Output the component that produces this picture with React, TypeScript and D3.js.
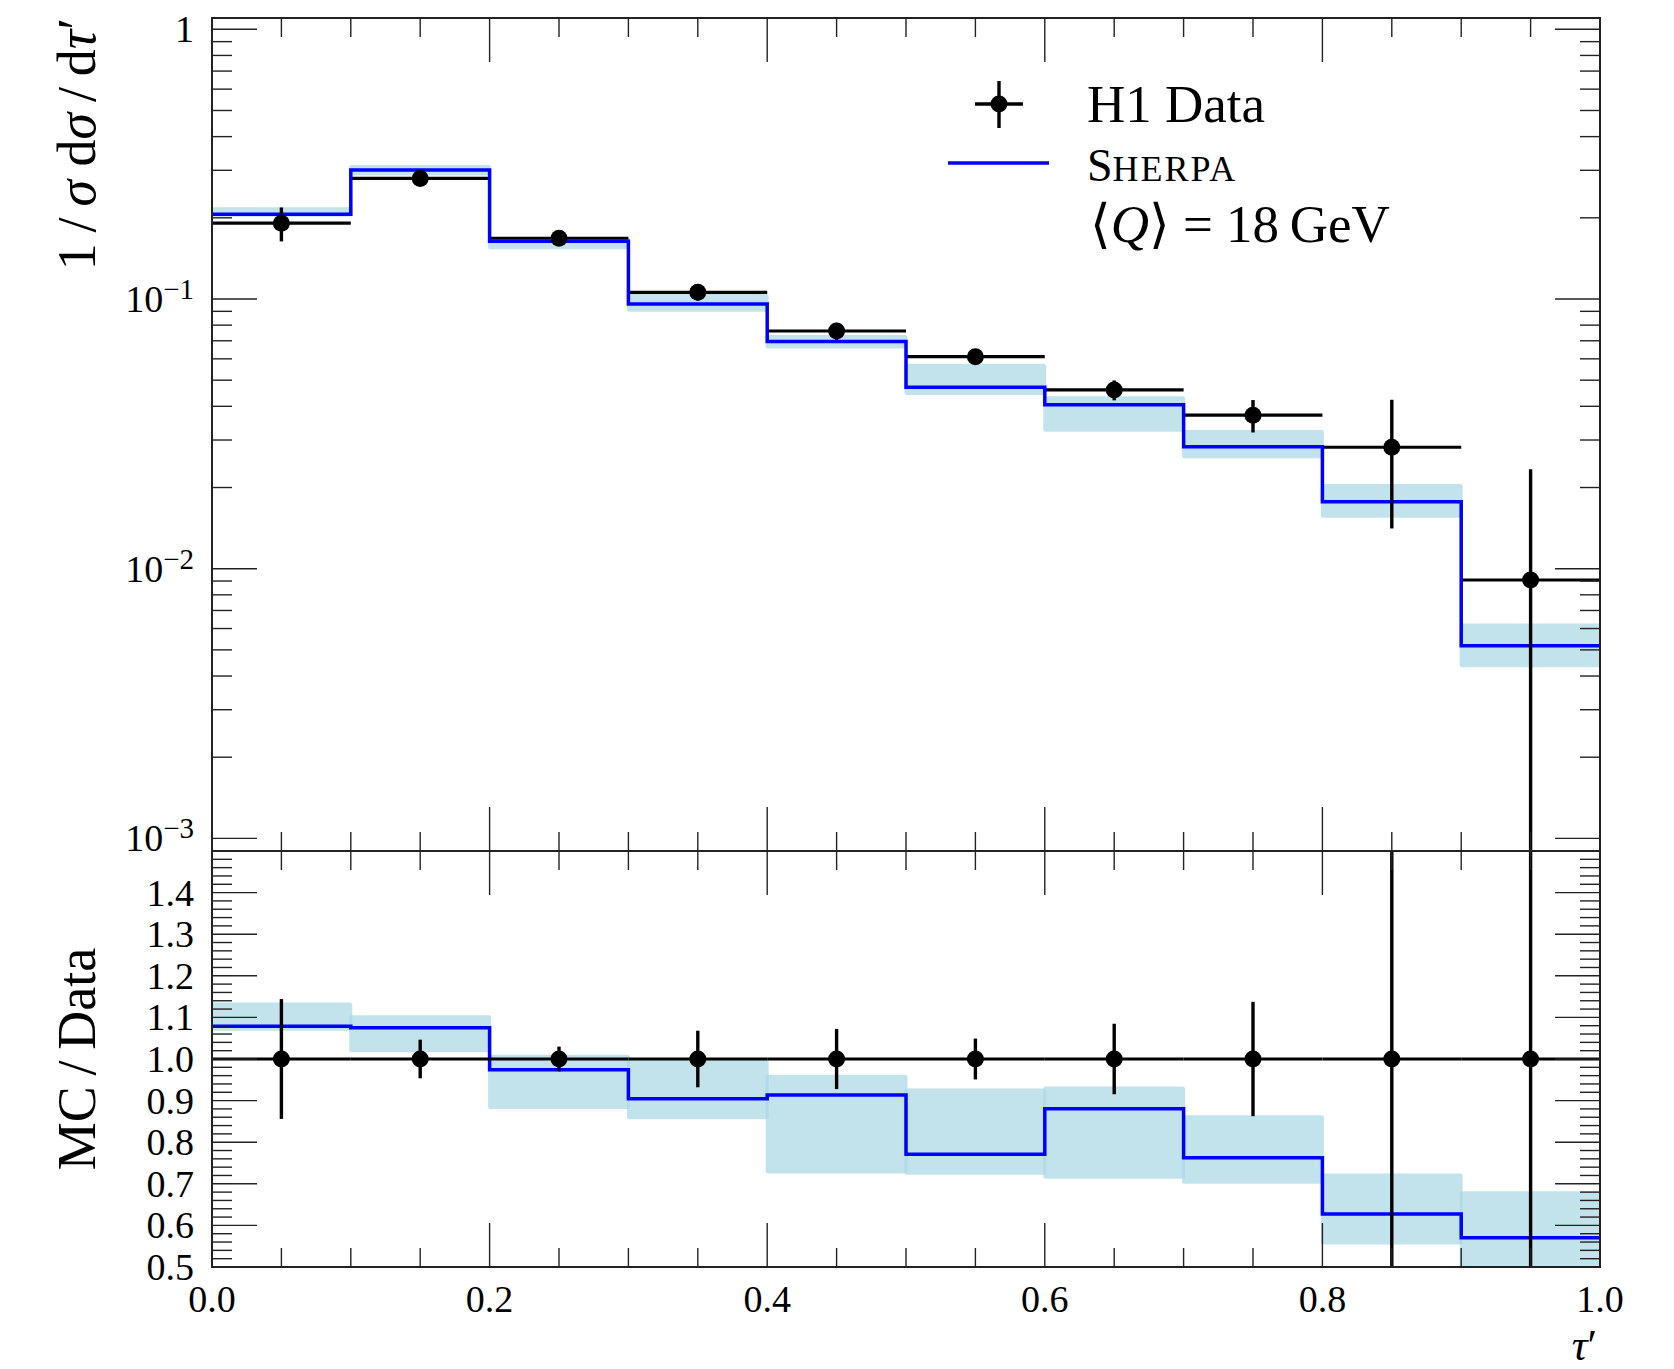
import React from "react";
import * as d3 from "d3";

// ---------- data ----------
const binEdges = [0, 0.1, 0.2, 0.3, 0.4, 0.5, 0.6, 0.7, 0.8, 0.9, 1.0];
const dataVal = [0.191, 0.280, 0.168, 0.1059, 0.0761, 0.0611, 0.0460, 0.0371, 0.0282, 0.00908];
const dataErr = [0.0275, 0.013, 0.005, 0.0072, 0.0055, 0.003, 0.0039, 0.0051, 0.0141, 0.0143];
const mcVal = [0.206, 0.301, 0.1637, 0.0958, 0.0695, 0.0471, 0.0405, 0.0283, 0.0177, 0.00518];
const mcLo = [0.202, 0.287, 0.153, 0.0896, 0.0656, 0.0441, 0.0322, 0.0257, 0.01546, 0.00431];
const mcHi = [0.219, 0.314, 0.169, 0.1045, 0.0735, 0.0575, 0.0436, 0.0327, 0.0206, 0.00626];
const ratioLo = [1.068, 1.016, 0.88, 0.855, 0.725, 0.722, 0.712, 0.70, 0.554, 0.47];
const ratioHi = [1.136, 1.105, 1.01, 0.998, 0.962, 0.929, 0.934, 0.865, 0.725, 0.682];

const xTickValues = [0, 0.2, 0.4, 0.6, 0.8, 1.0];
const xTickLabels = ["0.0", "0.2", "0.4", "0.6", "0.8", "1.0"];
const mainTickValues = [1, 0.1, 0.01, 0.001];
const mainTickExp = ["", "−1", "−2", "−3"];
const ratioTickValues = [0.5, 0.6, 0.7, 0.8, 0.9, 1.0, 1.1, 1.2, 1.3, 1.4];
const ratioTickLabels = ["0.5", "0.6", "0.7", "0.8", "0.9", "1.0", "1.1", "1.2", "1.3", "1.4"];

// ---------- layout ----------
const W = 1674, H = 1369;
const L = 212, R = 1600, T = 18, MID = 851, B = 1267;
const FONT = "'Liberation Serif', 'DejaVu Serif', serif";
const BAND = "#add8e6";
const TICK = "#222";

export default function App() {
  const x = d3.scaleLinear().domain([0, 1]).range([L, R]);
  const y = d3.scaleLog().domain([0.001, 1]).range([838.4, 29.3]);
  const yr = d3.scaleLinear().domain([0.5, 1.5]).range([B, MID]);

  const stepPts = (vals: number[]) =>
    binEdges.map((e, i) => [e, vals[Math.min(i, vals.length - 1)]] as [number, number]);

  const mainLine = d3.line<[number, number]>().x(d => x(d[0])).y(d => y(d[1])).curve(d3.curveStepAfter);
  const ratioLine = d3.line<[number, number]>().x(d => x(d[0])).y(d => yr(d[1])).curve(d3.curveStepAfter);
  const ratioMc = mcVal.map((v, i) => v / dataVal[i]);
  const ratioErr = dataErr.map((e, i) => e / dataVal[i]);

  // ticks
  const xMinor = d3.range(1, 20).map(i => ({ v: i * 0.05, major: i % 4 === 0 }));
  const mainMinor: number[] = [];
  [-3, -2, -1].forEach(d => d3.range(2, 10).forEach(k => mainMinor.push(k * Math.pow(10, d))));
  const ratioMinor = d3.range(26, 75).map(i => i * 0.02).filter(v => Math.abs(v * 10 - Math.round(v * 10)) > 1e-6);

  const mid = (i: number) => (binEdges[i] + binEdges[i + 1]) / 2;

  return (
    <svg width={W} height={H} style={{ position: "absolute", left: 0, top: 0, display: "block", background: "#fff" }} fontFamily={FONT}>
      <defs>
        <clipPath id="clipMain"><rect x={L} y={T} width={R - L} height={MID - T} /></clipPath>
        <clipPath id="clipRatio"><rect x={L} y={MID} width={R - L} height={B - MID} /></clipPath>
      </defs>

      {/* main panel */}
      <g clipPath="url(#clipMain)">
        {mcVal.map((_, i) => (
          <rect key={"mb" + i} x={x(binEdges[i]) - 1.5} width={x(binEdges[i + 1]) - x(binEdges[i]) + 3}
            y={y(mcHi[i])} height={y(mcLo[i]) - y(mcHi[i])} rx={2.5} fill={BAND} fillOpacity={0.75} />
        ))}
        {dataVal.map((v, i) => (
          <line key={"dh" + i} x1={x(binEdges[i])} x2={x(binEdges[i + 1])} y1={y(v)} y2={y(v)} stroke="#000" strokeWidth={3.2} />
        ))}
        <path d={mainLine(stepPts(mcVal)) || ""} fill="none" stroke="#0000ff" strokeWidth={3.5} />
        {dataVal.map((v, i) => (
          <g key={"dp" + i}>
            <line x1={x(mid(i))} x2={x(mid(i))} y1={y(v + dataErr[i])} y2={y(Math.max(v - dataErr[i], 1e-6))} stroke="#000" strokeWidth={3.4} />
            <circle cx={x(mid(i))} cy={y(v)} r={8.5} fill="#000" />
          </g>
        ))}
      </g>

      {/* ratio panel */}
      <g clipPath="url(#clipRatio)">
        {ratioLo.map((_, i) => (
          <rect key={"rb" + i} x={x(binEdges[i]) - 1.5} width={x(binEdges[i + 1]) - x(binEdges[i]) + 3}
            y={yr(ratioHi[i])} height={yr(ratioLo[i]) - yr(ratioHi[i])} rx={2.5} fill={BAND} fillOpacity={0.75} />
        ))}
        <path d={ratioLine(stepPts(ratioMc)) || ""} fill="none" stroke="#0000ff" strokeWidth={3.5} />
        {dataVal.map((_, i) => (
          <g key={"rp" + i}>
            <line x1={x(binEdges[i])} x2={x(binEdges[i + 1])} y1={yr(1)} y2={yr(1)} stroke="#000" strokeWidth={3.2} />
            <line x1={x(mid(i))} x2={x(mid(i))} y1={yr(1 + ratioErr[i])} y2={yr(1 - ratioErr[i])} stroke="#000" strokeWidth={3.4} />
            <circle cx={x(mid(i))} cy={yr(1)} r={8.5} fill="#000" />
          </g>
        ))}
      </g>

      {/* ticks */}
      <g stroke={TICK} strokeWidth={1.4}>
        {xMinor.map(t => {
          const len = t.major ? 44 : 19;
          const px = x(t.v);
          return (
            <g key={"xt" + t.v}>
              <line x1={px} x2={px} y1={T} y2={T + len} />
              <line x1={px} x2={px} y1={MID} y2={MID - len} />
              <line x1={px} x2={px} y1={MID} y2={MID + len} />
              <line x1={px} x2={px} y1={B} y2={B - len} />
            </g>
          );
        })}
        {mainTickValues.map(v => (
          <g key={"ym" + v}>
            <line x1={L} x2={L + 45} y1={y(v)} y2={y(v)} />
            <line x1={R} x2={R - 45} y1={y(v)} y2={y(v)} />
          </g>
        ))}
        {mainMinor.map(v => (
          <g key={"yn" + v}>
            <line x1={L} x2={L + 20} y1={y(v)} y2={y(v)} />
            <line x1={R} x2={R - 20} y1={y(v)} y2={y(v)} />
          </g>
        ))}
        {ratioTickValues.map(v => (
          <g key={"rm" + v}>
            <line x1={L} x2={L + 45} y1={yr(v)} y2={yr(v)} />
            <line x1={R} x2={R - 45} y1={yr(v)} y2={yr(v)} />
          </g>
        ))}
        {ratioMinor.map(v => (
          <g key={"rn" + v}>
            <line x1={L} x2={L + 20} y1={yr(v)} y2={yr(v)} />
            <line x1={R} x2={R - 20} y1={yr(v)} y2={yr(v)} />
          </g>
        ))}
      </g>

      {/* frame */}
      <rect x={L} y={T} width={R - L} height={B - T} fill="none" stroke="#222" strokeWidth={2} />
      <line x1={L} x2={R} y1={MID} y2={MID} stroke="#222" strokeWidth={2} />

      {/* tick labels */}
      <g fontSize={38} fill="#000">
        {xTickValues.map((v, i) => (
          <text key={"xl" + v} x={x(v)} y={1312} textAnchor="middle">{xTickLabels[i]}</text>
        ))}
        {ratioTickValues.map((v, i) => (
          <text key={"rl" + v} x={194} y={yr(v) + 13} textAnchor="end">{ratioTickLabels[i]}</text>
        ))}
        {mainTickValues.map((v, i) => (
          <text key={"ml" + v} x={194} y={y(v) + 13} textAnchor="end">
            {mainTickExp[i] === "" ? "1" : (
              <>
                <tspan>10</tspan>
                <tspan dy={-13} fontSize={29}>{mainTickExp[i]}</tspan>
              </>
            )}
          </text>
        ))}
      </g>

      {/* axis titles */}
      <text transform={`translate(95,${T}) rotate(-90)`} textAnchor="end" fontSize={54} fill="#000">
        <tspan>1{"\u2009"}/{"\u2009"}</tspan>
        <tspan fontStyle="italic">σ</tspan>
        <tspan>{" "}d</tspan>
        <tspan fontStyle="italic">σ</tspan>
        <tspan>{"\u2009"}/{"\u2009"}d</tspan>
        <tspan fontStyle="italic">τ</tspan>
        <tspan>′</tspan>
      </text>
      <text transform={`translate(95,${yr(1)}) rotate(-90)`} textAnchor="middle" fontSize={54} fill="#000">
        MC{"\u2009"}/{"\u2009"}Data
      </text>
      <text x={1597} y={1359.5} textAnchor="end" fontSize={44} fill="#000">
        <tspan fontStyle="italic">τ</tspan>
        <tspan>′</tspan>
      </text>

      {/* legend */}
      <g>
        <line x1={975} x2={1023} y1={104} y2={104} stroke="#000" strokeWidth={3.4} />
        <line x1={999} x2={999} y1={81} y2={128} stroke="#000" strokeWidth={3.4} />
        <circle cx={999} cy={104} r={8.5} fill="#000" />
        <text x={1087} y={122} fontSize={53} fill="#000">H1 Data</text>
        <line x1={948} x2={1049} y1={163} y2={163} stroke="#0000ff" strokeWidth={3.5} />
        <text x={1087} y={181} fill="#000">
          <tspan fontSize={46}>S</tspan>
          <tspan fontSize={36} letterSpacing={2}>HERPA</tspan>
        </text>
        <text x={1090} y={242} fontSize={53} fill="#000">
          <tspan>⟨</tspan>
          <tspan fontStyle="italic">Q</tspan>
          <tspan>⟩ = 18{"\u2009"}GeV</tspan>
        </text>
      </g>
    </svg>
  );
}
